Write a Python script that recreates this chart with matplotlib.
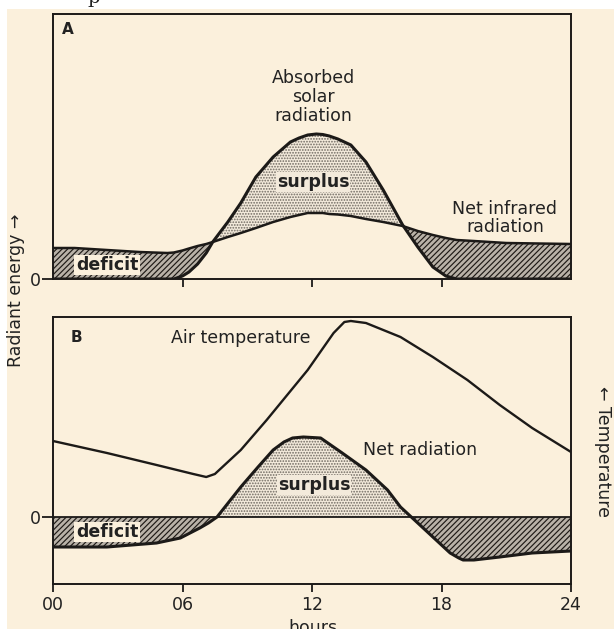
import matplotlib.pyplot as plt
import numpy as np
from matplotlib.patches import Rectangle

# panel A: absorbed solar vs net infrared radiation (radiant energy, arbitrary units)
hours_a = [0, 1, 2.5, 4, 5.3, 5.6, 6.0, 6.3, 6.7, 7.1, 7.4, 8.1, 8.7, 9.4, 10.2,
           11.0, 11.4, 11.8, 12.2, 12.5, 12.8, 13.2, 13.8, 14.5, 15.3, 16.2, 16.9,
           17.6, 18.2, 18.7, 19.5, 21, 24]
solar = [0, 0, 0, 0, 0, 0, 0.3, 0.7, 1.5, 2.6, 3.7, 5.7, 7.6, 10.2, 12.2,
         13.7, 14.1, 14.4, 14.5, 14.45, 14.3, 14.0, 13.4, 11.7, 8.9, 5.4, 3.2,
         1.2, 0.3, 0, 0, 0, 0]
infrared = [3.1, 3.1, 2.9, 2.7, 2.6, 2.65, 2.85, 3.05, 3.3, 3.5, 3.7, 4.2, 4.6, 5.1, 5.7,
            6.2, 6.4, 6.6, 6.6, 6.6, 6.5, 6.45, 6.3, 6.0, 5.7, 5.3, 4.8,
            4.4, 4.1, 3.9, 3.8, 3.6, 3.5]

# panel B: net radiation and air temperature
hours_net = [0, 2.5, 4.8, 5.9, 6.8, 7.2, 7.6, 8.7, 9.5, 10.2, 10.7, 11.1, 11.6, 12.4,
             13.0, 13.4, 14.5, 15.5, 16.1, 16.6, 17.6, 18.4, 18.8, 19.0, 19.5,
             20.7, 22.2, 24]
net_rad = [-3.0, -3.0, -2.6, -2.1, -1.1, -0.6, 0, 3.0, 5.0, 6.7, 7.5, 7.9, 8.0, 7.9,
           7.0, 6.4, 4.7, 2.7, 1.0, 0, -2.0, -3.6, -4.1, -4.3, -4.3,
           -4.0, -3.6, -3.4]

hours_temp = [0, 2.5, 4.8, 6.5, 7.1, 7.5, 8.7, 9.9, 11.8, 13.0, 13.5, 13.8, 14.5,
              16.1, 17.6, 19.2, 20.7, 22.2, 24]
air_temp = [7.6, 6.4, 5.2, 4.3, 4.0, 4.3, 6.7, 9.7, 14.7, 18.4, 19.5, 19.6, 19.4,
            18.0, 16.0, 13.7, 11.2, 8.9, 6.5]

tick_hours = [0, 6, 12, 18, 24]
tick_labels = ['00', '06', '12', '18', '24']

cream = '#fbf0dc'
ink = '#1c1a18'
W, H = 614, 629

plt.rcParams['font.family'] = 'DejaVu Sans'
plt.rcParams['hatch.linewidth'] = 0.85

fig = plt.figure(figsize=(W / 100, H / 100), dpi=100)
fig.patch.set_facecolor('white')
fig.patches.append(Rectangle((7 / W, 0), 1, 1 - 9 / H, transform=fig.transFigure,
                             facecolor=cream, edgecolor='none', zorder=-5))
# cut-off caption letter at the very top
fig.text(94 / W, 1 - 3 / H, 'p', family='DejaVu Serif', fontsize=14,
         ha='center', va='baseline', color='#222')

axA = fig.add_axes([53 / W, 1 - 279 / H, 518 / W, 265 / H])
axB = fig.add_axes([53 / W, 1 - 584 / H, 518 / W, 267 / H])

for ax in (axA, axB):
    ax.set_facecolor('none')
    ax.set_xlim(0, 24)
    for s in ax.spines.values():
        s.set_linewidth(1.4)
        s.set_color(ink)
    ax.tick_params(direction='out', length=6, width=1.3, color=ink,
                   labelsize=12.5, labelcolor='#222')

dots = dict(facecolor='#f3eadb', edgecolor='#6f6961', hatch='......', linewidth=0)
lines = dict(facecolor='#b9b2a8', edgecolor='#1e1a16', hatch='//////', linewidth=0)

# ---- panel A
sa = np.array(solar)
ia = np.array(infrared)
axA.fill_between(hours_a, sa, ia, where=sa >= ia, interpolate=True, **dots)
axA.fill_between(hours_a, sa, ia, where=ia >= sa, interpolate=True, **lines)
axA.plot(hours_a, solar, color=ink, lw=2.2, solid_capstyle='butt')
axA.plot(hours_a, infrared, color=ink, lw=1.8, solid_capstyle='butt')
axA.set_ylim(0, 26.5)
axA.set_xticks([6, 12, 18])
axA.set_xticklabels([])
axA.set_yticks([0])
axA.set_yticklabels(['0'])
axA.tick_params(axis='y', length=8, pad=1)

txt = dict(fontsize=12.5, color='#222', ha='center', va='center')
axA.text(0.7, 24.9, 'A', fontsize=11, fontweight='bold', color='#222', ha='center', va='center')
axA.text(12.05, 18.2, 'Absorbed\nsolar\nradiation', linespacing=1.1, **txt)
axA.text(12.05, 9.7, 'surplus', fontweight='bold',
         bbox=dict(facecolor='#f3eadb', edgecolor='none', pad=0.5), **txt)
axA.text(2.5, 1.4, 'deficit', fontweight='bold',
         bbox=dict(facecolor=cream, edgecolor='none', pad=1), **txt)
axA.text(20.94, 6.1, 'Net infrared\nradiation', linespacing=1.05, **txt)

# ---- panel B
nb = np.array(net_rad)
axB.fill_between(hours_net, nb, 0, where=nb >= 0, interpolate=True, **dots)
axB.fill_between(hours_net, nb, 0, where=nb <= 0, interpolate=True, **lines)
axB.axhline(0, color=ink, lw=1.3)
axB.plot(hours_net, net_rad, color=ink, lw=2.2, solid_capstyle='butt')
axB.set_ylim(-6.7, 20.0)
axB.set_xticks(tick_hours)
axB.set_xticklabels(tick_labels)
axB.set_yticks([0])
axB.set_yticklabels(['0'])
axB.tick_params(axis='y', length=8, pad=1)
axB.tick_params(axis='x', pad=3)

axT = axB.twinx()
axT.set_ylim(axB.get_ylim())
axT.set_yticks([])
axT.axis('off')
axT.plot(hours_temp, air_temp, color=ink, lw=1.7)

axB.text(1.1, 17.9, 'B', fontsize=11, fontweight='bold', color='#222', ha='center', va='center')
axB.text(8.7, 17.9, 'Air temperature', **txt)
axB.text(17.0, 6.7, 'Net radiation', **txt)
axB.text(12.1, 3.2, 'surplus', fontweight='bold',
         bbox=dict(facecolor='#f3eadb', edgecolor='none', pad=0.5), **txt)
axB.text(2.5, -1.5, 'deficit', fontweight='bold',
         bbox=dict(facecolor=cream, edgecolor='none', pad=1), **txt)

# axis titles
fig.text(16 / W, 1 - 290 / H, 'Radiant energy \u2192', rotation=90,
         fontsize=12.5, color='#222', ha='center', va='center')
fig.text(603 / W, 1 - 452 / H, '\u2190 Temperature', rotation=270,
         fontsize=12.5, color='#222', ha='center', va='center')
fig.text(313 / W, 1 - 619 / H, 'hours', fontsize=12.5, color='#222',
         ha='center', va='top')

fig.savefig('out.png', dpi=100, facecolor=fig.get_facecolor())
